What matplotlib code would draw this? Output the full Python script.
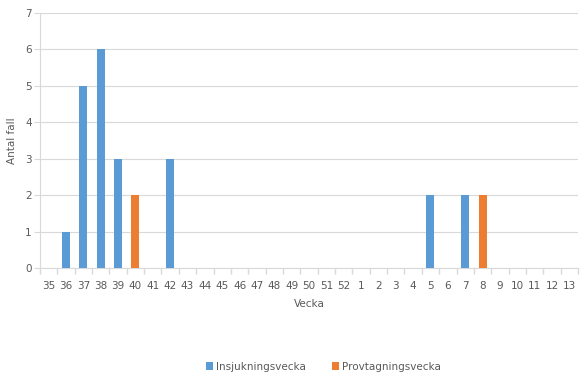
import numpy as np
import matplotlib.pyplot as plt

weeks = [str(w) for w in list(range(35, 53)) + list(range(1, 14))]
insjukning = [0, 1, 5, 6, 3, 0, 0, 3, 0, 0, 0, 0, 0, 0, 0, 0, 0, 0,
              0, 0, 0, 0, 2, 0, 2, 0, 0, 0, 0, 0, 0]
provtagning = [0, 0, 0, 0, 0, 2, 0, 0, 0, 0, 0, 0, 0, 0, 0, 0, 0, 0,
               0, 0, 0, 0, 0, 0, 0, 2, 0, 0, 0, 0, 0]

blue = '#5B9BD5'
orange = '#ED7D31'
txt = '#595959'
grid = '#D9D9D9'

fig = plt.figure(figsize=(5.88, 3.78), dpi=100)
ax = fig.add_axes([0.068, 0.291, 0.915, 0.675])

x = np.arange(len(weeks))
ax.bar(x, insjukning, width=0.46, color=blue, label='Insjukningsvecka', zorder=3)
ax.bar(x, provtagning, width=0.46, color=orange, label='Provtagningsvecka', zorder=3)

ax.set_xlim(-0.5, len(weeks) - 0.5)
ax.set_ylim(0, 7)
ax.set_yticks(range(0, 8))
ax.set_xticks(x)
ax.set_xticklabels(weeks)
ax.set_xticks(np.arange(-0.5, len(weeks), 1), minor=True)
ax.tick_params(axis='x', which='major', length=0, pad=9, labelsize=7.5, labelcolor=txt)
ax.tick_params(axis='x', which='minor', length=4, color=grid, width=1)
ax.tick_params(axis='y', length=4, color=grid, labelsize=7.5, labelcolor=txt, pad=2)

ax.grid(axis='y', color=grid, linewidth=0.8, zorder=0)
for s in ['top', 'right']:
    ax.spines[s].set_visible(False)
for s in ['left', 'bottom']:
    ax.spines[s].set_color(grid)

ax.set_xlabel('Vecka', fontsize=7.5, color=txt, labelpad=6)
ax.set_ylabel('Antal fall', fontsize=7.5, color=txt, labelpad=6)

fig.legend(loc='lower center', bbox_to_anchor=(0.55, -0.008), ncol=2, frameon=False,
           fontsize=7.5, labelcolor=txt, handlelength=0.7, handleheight=0.7,
           columnspacing=2.5, handletextpad=0.3)

fig.savefig('out.png', dpi=100)
